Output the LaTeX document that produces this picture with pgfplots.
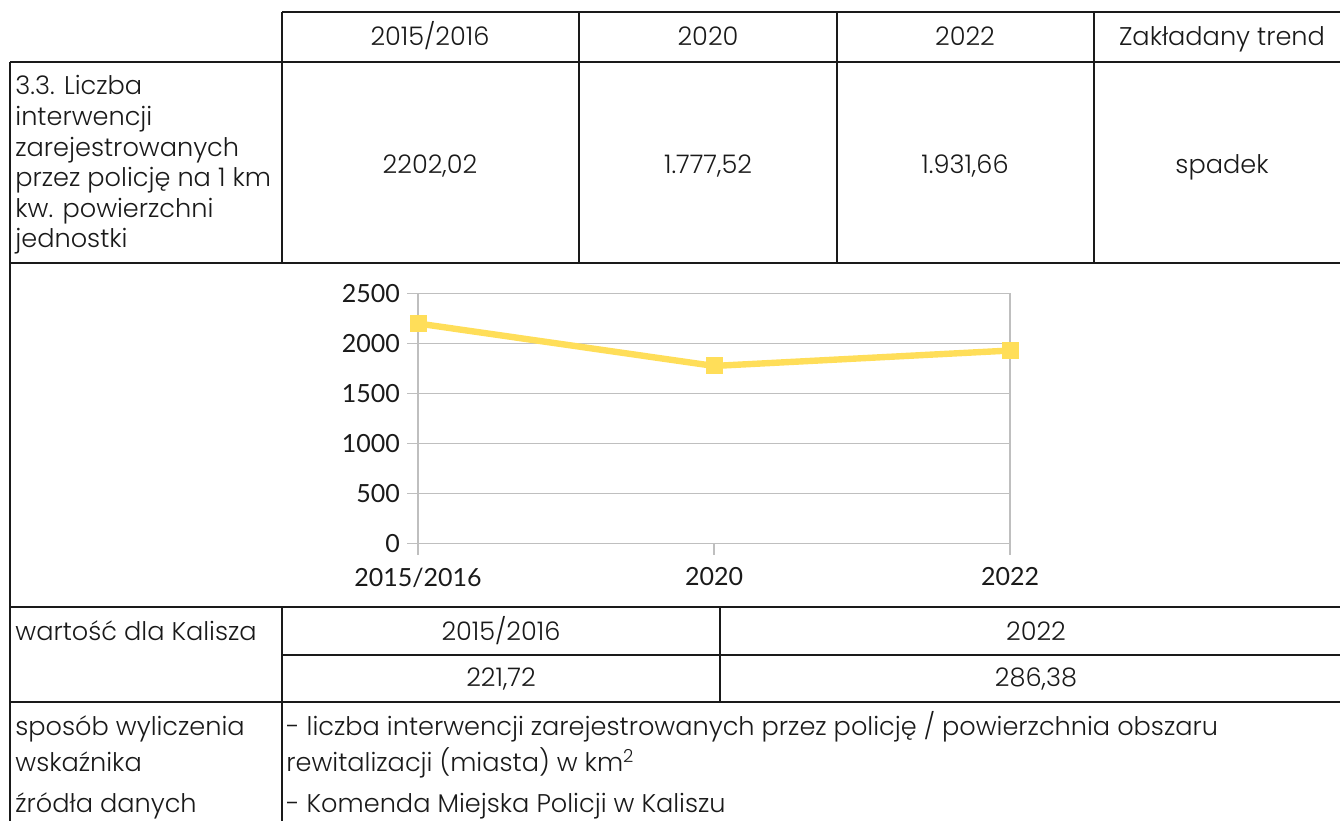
\documentclass[border=0pt]{standalone}
\usepackage{fontspec}
\usepackage{pgfplots}
\pgfplotsset{compat=1.18}
\IfFontExistsTF{Poppins Light}{\setmainfont{Poppins Light}}{\setmainfont{Poppins}}
\newfontfamily\chartfont{Lato}
\definecolor{lineyellow}{HTML}{FFDE59}
\definecolor{gridgray}{HTML}{BFBFBF}
\definecolor{txt}{HTML}{1A1A1A}
\begin{document}
\begin{tikzpicture}[x=0.5pt,y=0.5pt]
\useasboundingbox (0,0) rectangle (1340,821);
\begin{scope}[line width=0.6pt, draw=txt]
\draw (282,809) -- (1340,809);
\draw (10,759) -- (1340,759);
\draw (10,558) -- (1340,558);
\draw (10,214) -- (1340,214);
\draw (282,166) -- (1340,166);
\draw (10,119) -- (1340,119);
\draw (282,809) -- (282,558);
\draw (579,809) -- (579,558);
\draw (837,809) -- (837,558);
\draw (1094,809) -- (1094,558);
\draw (10,759) -- (10,0);
\draw (282,214) -- (282,0);
\draw (720,214) -- (720,119);
\end{scope}
\begin{scope}[every node/.style={inner sep=0pt, text=txt, font=\fontsize{12.8}{15}\selectfont}]
% header
\node[anchor=base] at (430,775) {2015/2016};
\node[anchor=base] at (708,775) {2020};
\node[anchor=base] at (965,775) {2022};
\node[anchor=base] at (1222,775) {Zakładany trend};
% row 2
\node[anchor=base west] at (15,726) {3.3. Liczba};
\node[anchor=base west] at (15,695.4) {interwencji};
\node[anchor=base west] at (15,664.8) {zarejestrowanych};
\node[anchor=base west] at (15,634.2) {przez policję na 1 km};
\node[anchor=base west] at (15,603.6) {kw. powierzchni};
\node[anchor=base west] at (15,573) {jednostki};
\node[anchor=base] at (430,647) {2202,02};
\node[anchor=base] at (708,647) {1.777,52};
\node[anchor=base] at (965,647) {1.931,66};
\node[anchor=base] at (1222,647) {spadek};
% bottom rows
\node[anchor=base west] at (15,181) {wartość dla Kalisza};
\node[anchor=base] at (501,181) {2015/2016};
\node[anchor=base] at (1036,181) {2022};
\node[anchor=base] at (501,135) {221,72};
\node[anchor=base] at (1036,135) {286,38};
\node[anchor=base west] at (15,86) {sposób wyliczenia};
\node[anchor=base west] at (15,50) {wskaźnika};
\node[anchor=base west] at (15,9) {źródła danych};
\node[anchor=base west] at (286,86) {- liczba interwencji zarejestrowanych przez policję / powierzchnia obszaru};
\node[anchor=base west] at (286,50) {rewitalizacji (miasta) w km\textsuperscript{2}};
\node[anchor=base west] at (286,9) {- Komenda Miejska Policji w Kaliszu};
\end{scope}
\begin{axis}[
  at={(209pt,138.65pt)}, anchor=south west,
  scale only axis, width=296pt, height=125pt,
  xmin=0, xmax=2, ymin=0, ymax=2500,
  xtick={0,1,2}, xticklabels={2015/2016,2020,2022},
  ytick={0,500,1000,1500,2000,2500},
  ymajorgrids,
  grid style={gridgray, line width=0.65pt},
  axis line style={gridgray, line width=0.65pt},
  major tick style={gridgray, line width=0.65pt},
  tick align=outside, major tick length=5.5pt,
  xtick pos=bottom, ytick pos=left,
  ticklabel style={font=\chartfont\fontsize{12.5}{14}\selectfont, text=txt},
  xticklabel style={yshift=-3pt},
  /pgf/number format/assume math mode=true,
  /pgf/number format/1000 sep={},
  clip=false,
]
\addplot[lineyellow, line width=3.2pt, line join=round, mark=square*, mark size=4pt,
  mark options={fill=lineyellow, draw=lineyellow, line width=0pt}]
  coordinates {(0,2202.02) (1,1777.52) (2,1931.66)};
\end{axis}
\end{tikzpicture}
\end{document}
